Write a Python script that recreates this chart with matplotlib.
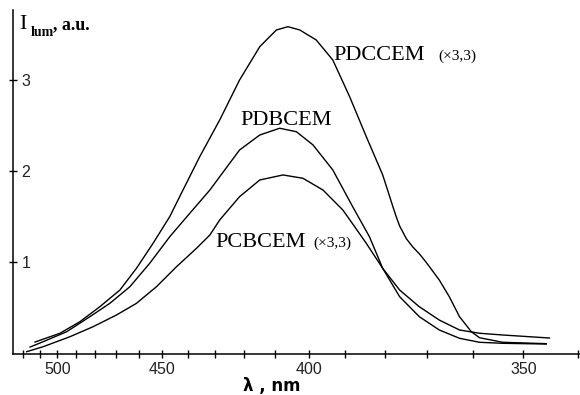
import numpy as np
import matplotlib
matplotlib.use("Agg")
import matplotlib.pyplot as plt
from matplotlib.ticker import FixedLocator, NullFormatter, FixedFormatter

# ---- data (wavelength, nm ; luminescence intensity, a.u.) ----
pdccem_wl = [512.9, 498.5, 487.8, 477.8, 468.3, 460.9, 453.8, 447.0, 441.8, 435.5,
             428.3, 421.5, 414.9, 409.7, 406.2, 402.7, 398.0, 393.4, 388.9, 384.6,
             380.5, 379.2, 378.0, 377.2, 376.4, 374.8, 373.3, 371.7, 370.2, 367.3,
             365.1, 362.9, 360.4, 358.7, 354.0, 345.7]
pdccem_I = [0.128, 0.224, 0.351, 0.515, 0.698, 0.936, 1.210, 1.502, 1.794, 2.159,
            2.562, 3.000, 3.365, 3.548, 3.584, 3.548, 3.439, 3.219, 2.817, 2.379,
            1.960, 1.780, 1.610, 1.500, 1.400, 1.260, 1.170, 1.090, 1.000, 0.808,
            0.625, 0.406, 0.241, 0.175, 0.125, 0.110]

pdbcem_wl = [515.9, 508.0, 494.8, 482.7, 473.0, 463.8, 455.2, 447.0, 439.2, 431.8,
             428.3, 421.5, 414.9, 408.7, 403.7, 398.9, 393.4, 388.1, 383.8, 380.5,
             376.4, 371.8, 367.3, 362.9, 358.7, 354.0, 345.7]
pdbcem_I = [0.073, 0.132, 0.241, 0.406, 0.552, 0.734, 0.991, 1.282, 1.539, 1.794,
            1.940, 2.233, 2.397, 2.471, 2.433, 2.288, 2.014, 1.611, 1.282, 0.936,
            0.625, 0.406, 0.260, 0.169, 0.125, 0.114, 0.106]

pcbcem_wl = [518.0, 508.0, 493.1, 481.1, 469.9, 460.9, 452.4, 444.3, 436.7, 431.8,
             428.3, 421.5, 414.9, 407.7, 401.8, 396.1, 390.7, 388.9, 384.6, 380.5,
             376.4, 371.8, 367.3, 362.9, 358.7, 354.0, 345.1]
pcbcem_I = [0.022, 0.077, 0.186, 0.296, 0.424, 0.552, 0.734, 0.954, 1.155, 1.301,
            1.466, 1.721, 1.904, 1.959, 1.923, 1.794, 1.575, 1.470, 1.210, 0.936,
            0.698, 0.515, 0.369, 0.260, 0.224, 0.205, 0.172]

x_major = [500, 450, 400, 350]
x_major_labels = ["500", "450", "400", "350"]
x_minor = [520, 510, 490, 480, 470, 460, 440, 430, 420, 410, 390, 380, 370, 360, 340]
y_ticks = [1, 2, 3]
y_tick_labels = ["1", "2", "3"]

W, H = 580, 395
fig = plt.figure(figsize=(W / 100, H / 100), dpi=100)
ax = fig.add_axes([13 / W, 1 - 353.7 / H, (579 - 13) / W, (353.7 - 10) / H])


def fwd(x):
    x = np.asarray(x, dtype=float)
    with np.errstate(divide="ignore", invalid="ignore"):
        return 1e6 / x ** 2


def inv(u):
    u = np.asarray(u, dtype=float)
    with np.errstate(divide="ignore", invalid="ignore"):
        return 1e3 / np.sqrt(u)


ax.set_xscale("function", functions=(fwd, inv))

for wl, I in [(pdccem_wl, pdccem_I), (pdbcem_wl, pdbcem_I), (pcbcem_wl, pcbcem_I)]:
    ax.plot(wl, I, color="black", lw=1.0, solid_joinstyle="round")

ax.set_xlim(339.8, 526.7)
ax.set_ylim(0, 3.767)

for s in ["top", "right"]:
    ax.spines[s].set_visible(False)
for s in ["left", "bottom"]:
    ax.spines[s].set_linewidth(1.1)
    ax.spines[s].set_color("black")

ticks_font = ["Liberation Sans", "DejaVu Sans"]
serif = ["Liberation Serif", "DejaVu Serif"]

ax.xaxis.set_major_locator(FixedLocator(x_major))
ax.xaxis.set_major_formatter(FixedFormatter(x_major_labels))
ax.xaxis.set_minor_locator(FixedLocator(x_minor))
ax.xaxis.set_minor_formatter(NullFormatter())
ax.tick_params(axis="x", which="both", direction="inout", length=6, width=1,
               color="black", pad=3, labelsize=11.5)
for lab in ax.get_xticklabels():
    lab.set_family(ticks_font)
    lab.set_color("#222222")

ax.yaxis.set_major_locator(FixedLocator(y_ticks))
ax.yaxis.set_major_formatter(FixedFormatter(y_tick_labels))
ax.yaxis.set_minor_locator(FixedLocator([]))
ax.tick_params(axis="y", which="both", direction="inout", length=6, width=1,
               color="black", pad=-9, labelsize=11.5)
for lab in ax.get_yticklabels():
    lab.set_family(ticks_font)
    lab.set_ha("left")
    lab.set_color("#222222")


def fx(px):
    return px / W


def fy(py):
    return 1 - py / H


# curve annotations
fig.text(fx(333), fy(60), "PDCCEM", family=serif, fontsize=16, va="baseline")
fig.text(fx(438), fy(60), "(×3,3)", family=serif, fontsize=11, va="baseline")
fig.text(fx(240), fy(125), "PDBCEM", family=serif, fontsize=16, va="baseline")
fig.text(fx(215), fy(247), "PCBCEM", family=serif, fontsize=16, va="baseline")
fig.text(fx(313), fy(247), "(×3,3)", family=serif, fontsize=11, va="baseline")

# y-axis label
fig.text(fx(19), fy(29), "I", family=serif, fontsize=16, va="baseline")
fig.text(fx(31), fy(36), "lum", family=serif, fontsize=10, weight="bold", va="baseline")
fig.text(fx(53), fy(29), ", a.u.", family=serif, fontsize=13, weight="bold", va="baseline")

# x-axis label
fig.text(fx(272), fy(391), "λ , nm", family=["DejaVu Sans"], fontsize=12,
         weight="bold", ha="center", va="baseline")

fig.savefig("out.png", dpi=100)
